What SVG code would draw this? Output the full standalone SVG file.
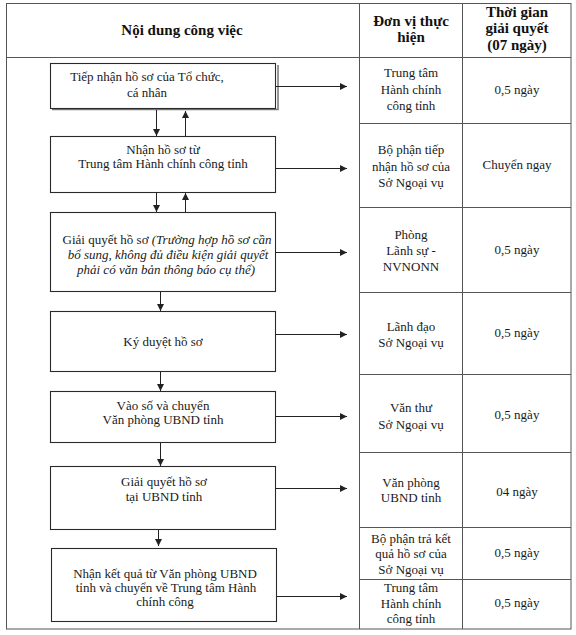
<svg xmlns="http://www.w3.org/2000/svg" width="576" height="635" viewBox="0 0 576 635">
<defs>
<style>
.t{font-family:"Liberation Serif","Times New Roman",serif;font-size:13px;fill:#1a1a1a;text-anchor:middle}
.h{font-family:"Liberation Serif","Times New Roman",serif;font-size:15px;font-weight:bold;fill:#111;text-anchor:middle}
.i{font-style:italic}
.grid{stroke:#555;stroke-width:1;fill:none}
.box{fill:#fff;stroke:#2a2a2a;stroke-width:1.1}
.c{stroke:#222;stroke-width:1;fill:none;marker-end:url(#ah)}
</style>
<marker id="ah" viewBox="0 0 10 10" refX="10" refY="5" markerWidth="7" markerHeight="7" markerUnits="userSpaceOnUse" orient="auto">
<path d="M0,0 L10,5 L0,10 z" fill="#222"/>
</marker>
</defs>
<rect width="576" height="635" fill="#fff"/>
<g id="table">
<rect class="grid" x="6.5" y="3.5" width="564.5" height="625.5"/>
<line class="grid" x1="6.5" y1="57.5" x2="571" y2="57.5"/>
<line class="grid" x1="359.5" y1="3.5" x2="359.5" y2="629"/>
<line class="grid" x1="462.5" y1="3.5" x2="462.5" y2="629"/>
<line class="grid" x1="359.5" y1="123.5" x2="571" y2="123.5"/>
<line class="grid" x1="359.5" y1="207.5" x2="571" y2="207.5"/>
<line class="grid" x1="359.5" y1="292.5" x2="571" y2="292.5"/>
<line class="grid" x1="359.5" y1="374.5" x2="571" y2="374.5"/>
<line class="grid" x1="359.5" y1="452.5" x2="571" y2="452.5"/>
<line class="grid" x1="359.5" y1="527.5" x2="571" y2="527.5"/>
<line class="grid" x1="359.5" y1="579.5" x2="571" y2="579.5"/>
</g>
<g id="header">
<text class="h" x="182" y="35">Nội dung công việc</text>
<text class="h" x="411" y="26">Đơn vị thực</text>
<text class="h" x="411" y="42">hiện</text>
<text class="h" x="517" y="17">Thời gian</text>
<text class="h" x="517" y="33">giải quyết</text>
<text class="h" x="517" y="50">(07 ngày)</text>
</g>
<g id="units">
<text class="t" x="411" y="77">Trung tâm</text>
<text class="t" x="411" y="94">Hành chính</text>
<text class="t" x="411" y="110">công tỉnh</text>
<text class="t" x="517" y="94">0,5 ngày</text>
<text class="t" x="411" y="154">Bộ phận tiếp</text>
<text class="t" x="411" y="171">nhận hồ sơ của</text>
<text class="t" x="411" y="187">Sở Ngoại vụ</text>
<text class="t" x="517" y="169">Chuyển ngay</text>
<text class="t" x="411" y="239">Phòng</text>
<text class="t" x="411" y="255">Lãnh sự -</text>
<text class="t" x="411" y="271">NVNONN</text>
<text class="t" x="517" y="254">0,5 ngày</text>
<text class="t" x="411" y="331">Lãnh đạo</text>
<text class="t" x="411" y="347">Sở Ngoại vụ</text>
<text class="t" x="517" y="337">0,5 ngày</text>
<text class="t" x="411" y="412">Văn thư</text>
<text class="t" x="411" y="429">Sở Ngoại vụ</text>
<text class="t" x="517" y="419">0,5 ngày</text>
<text class="t" x="411" y="487">Văn phòng</text>
<text class="t" x="411" y="502">UBND tỉnh</text>
<text class="t" x="517" y="496">04 ngày</text>
<text class="t" x="411" y="543">Bộ phận trả kết</text>
<text class="t" x="411" y="558">quả hồ sơ của</text>
<text class="t" x="411" y="574">Sở Ngoại vụ</text>
<text class="t" x="517" y="557">0,5 ngày</text>
<text class="t" x="411" y="592">Trung tâm</text>
<text class="t" x="411" y="608">Hành chính</text>
<text class="t" x="411" y="623">công tỉnh</text>
<text class="t" x="517" y="607">0,5 ngày</text>
</g>
<g id="step1">
<path d="M52,109.5 H278 V65" fill="none" stroke="#777" stroke-width="1.5"/>
<rect class="box" x="50.5" y="63.5" width="225" height="45"/>
<text class="t" x="147" y="81">Tiếp nhận hồ sơ của Tổ chức,</text>
<text class="t" x="147" y="97">cá nhân</text>
</g>
<g id="step2">
<rect class="box" x="50.5" y="136.5" width="225" height="56"/>
<text class="t" x="163" y="154">Nhận hồ sơ từ</text>
<text class="t" x="163" y="168">Trung tâm Hành chính công tỉnh</text>
</g>
<g id="step3">
<rect class="box" x="50.5" y="212.5" width="225" height="79"/>
<text class="t" x="167" y="244">Giải quyết hồ sơ <tspan class="i">(Trường hợp hồ sơ cần</tspan></text>
<text class="t i" x="168" y="259">bổ sung, không đủ điều kiện giải quyết</text>
<text class="t i" x="166" y="274">phải có văn bản thông báo cụ thể)</text>
</g>
<g id="step4">
<rect class="box" x="50.5" y="311.5" width="225" height="60"/>
<text class="t" x="163" y="346">Ký duyệt hồ sơ</text>
</g>
<g id="step5">
<rect class="box" x="50.5" y="391.5" width="225" height="51"/>
<text class="t" x="163" y="410">Vào số và chuyển</text>
<text class="t" x="163" y="424">Văn phòng UBND tỉnh</text>
</g>
<g id="step6">
<rect class="box" x="50.5" y="466.5" width="225" height="63"/>
<text class="t" x="164" y="486">Giải quyết hồ sơ</text>
<text class="t" x="164" y="501">tại UBND tỉnh</text>
</g>
<g id="step7">
<rect class="box" x="51.5" y="548.5" width="225" height="73"/>
<text class="t" x="165" y="578">Nhận kết quả từ Văn phòng UBND</text>
<text class="t" x="166" y="592">tỉnh và chuyển về Trung tâm Hành</text>
<text class="t" x="165" y="606">chính công</text>
</g>
<g id="connectors">
<line class="c" x1="156.5" y1="110" x2="156.5" y2="136"/>
<line class="c" x1="185.5" y1="136" x2="185.5" y2="111"/>
<line class="c" x1="156.5" y1="193" x2="156.5" y2="212"/>
<line class="c" x1="185.5" y1="212" x2="185.5" y2="193"/>
<line class="c" x1="160.5" y1="292" x2="160.5" y2="311"/>
<line class="c" x1="160.5" y1="372" x2="160.5" y2="391"/>
<line class="c" x1="160.5" y1="443" x2="160.5" y2="466"/>
<line class="c" x1="158.5" y1="530" x2="158.5" y2="546"/>
<line class="c" x1="276" y1="86.5" x2="347" y2="86.5"/>
<line class="c" x1="276" y1="168.5" x2="347" y2="168.5"/>
<line class="c" x1="276" y1="252.5" x2="347" y2="252.5"/>
<line class="c" x1="276" y1="334.5" x2="347" y2="334.5"/>
<line class="c" x1="276" y1="416.5" x2="347" y2="416.5"/>
<line class="c" x1="276" y1="488.5" x2="347" y2="488.5"/>
<line class="c" x1="277" y1="596.5" x2="347" y2="596.5"/>
</g>
</svg>
